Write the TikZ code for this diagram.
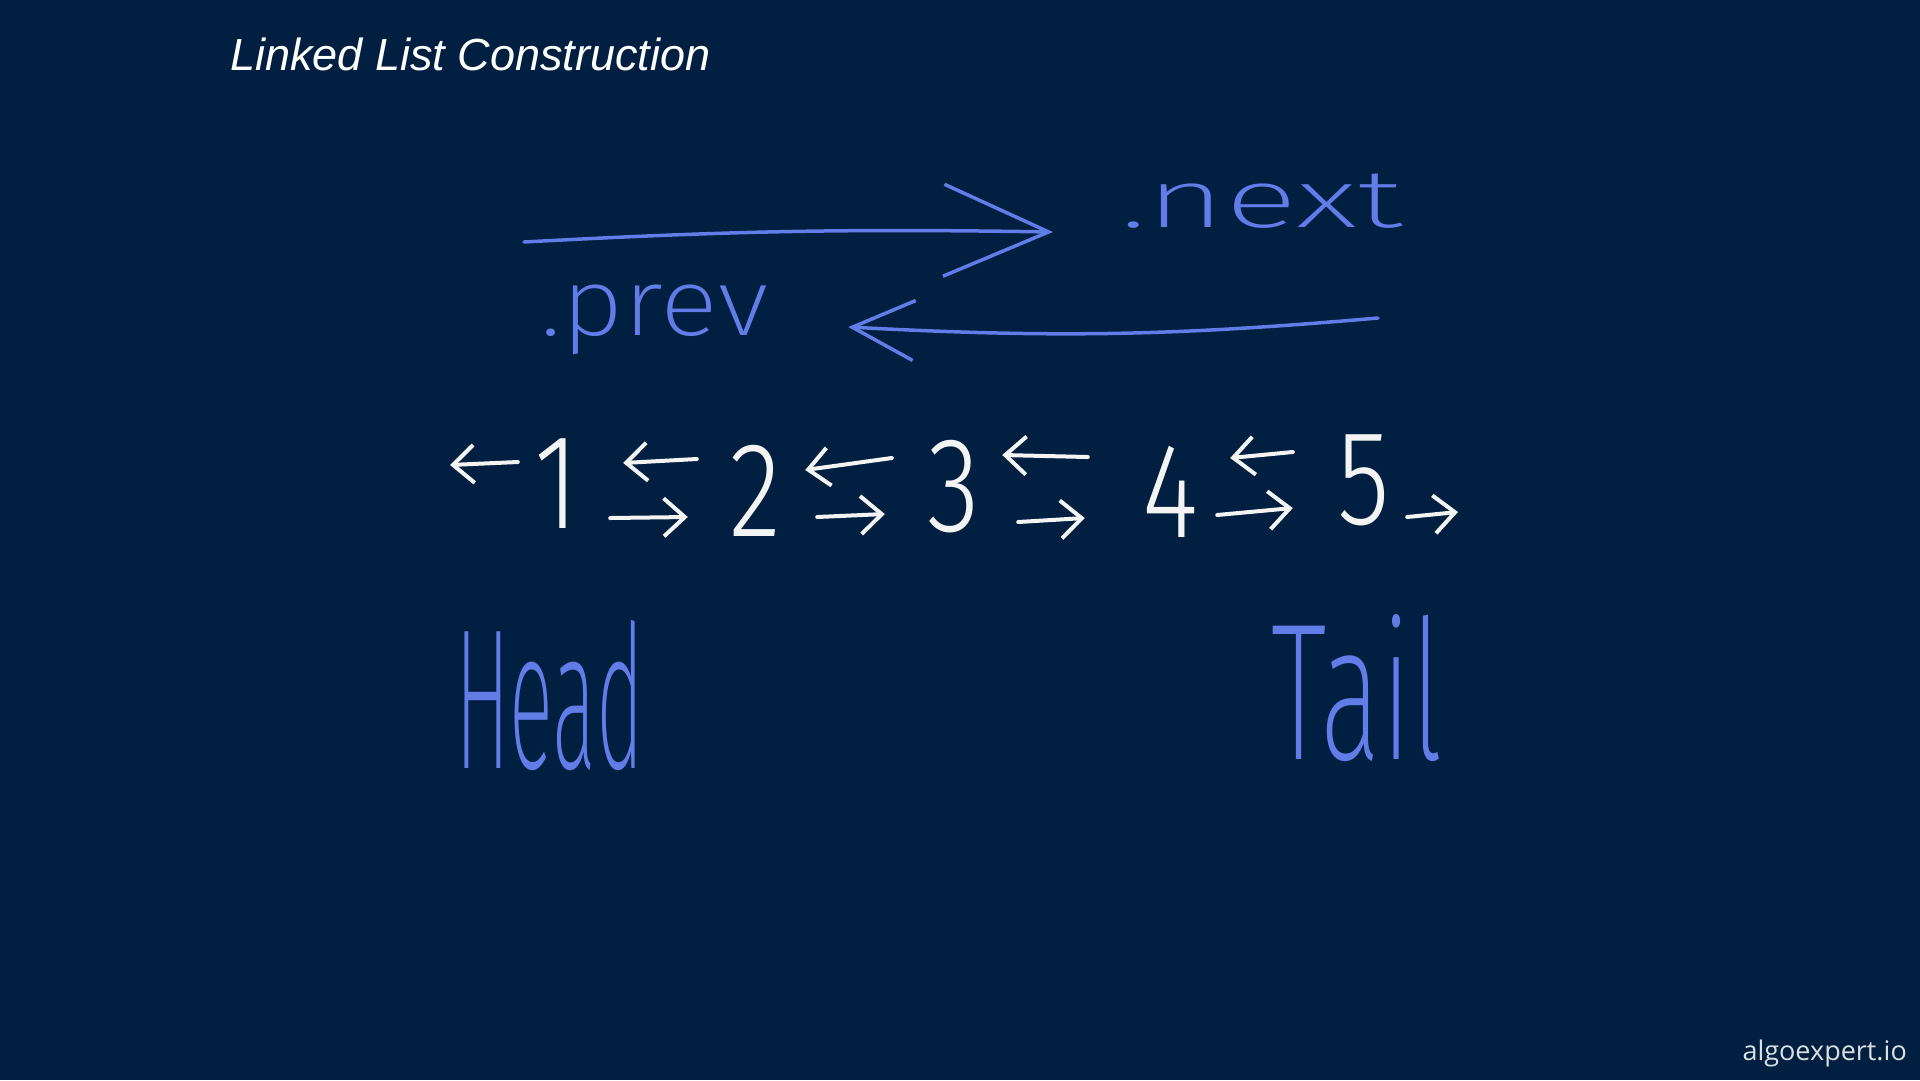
\documentclass[tikz,border=0pt]{standalone}
\usepackage{fontspec}
\usepackage{graphicx}
\usepackage{tikz}
\usetikzlibrary{arrows.meta,calc}
\definecolor{boardnavy}{RGB}{1,31,64}
\definecolor{inkblue}{RGB}{98,124,232}
\definecolor{chalkwhite}{RGB}{244,244,244}
\newfontfamily\titlefont{Liberation Sans}
\newfontfamily\markfont{Open Sans}
\IfFontExistsTF{Fira Sans Light}
  {\newfontfamily\handfont{Fira Sans Light}}
  {\newfontfamily\handfont{Open Sans}}
\IfFontExistsTF{Fira Sans ExtraLight}
  {\newfontfamily\penfont{Fira Sans ExtraLight}}
  {\newfontfamily\penfont{Open Sans}}
\newcommand{\squeeze}[2]{\scalebox{#1}[1]{#2}}

\begin{document}
\begin{tikzpicture}[x=1pt,y=-1pt,
  digit/.style={text=chalkwhite,inner sep=0pt,minimum width=60pt,
                font=\handfont\fontsize{135}{140}\selectfont},
  word/.style={text=inkblue,inner sep=0pt,anchor=base west},
  link/.style={-{Straight Barb[length=21pt,width=38pt]},line width=4pt,
               line cap=round,line join=round,chalkwhite},
  pointer/.style={line width=3.5pt,line cap=round,line join=round,inkblue}]

  % Board
  \fill[boardnavy] (0,0) rectangle (1920,1080);
  \useasboundingbox (0,0) rectangle (1920,1080);

  \node[anchor=base west,inner sep=0pt,text=white,
        font=\titlefont\itshape\fontsize{45}{54}\selectfont]
    (title) at (230,70) {Linked List Construction};
  \node[anchor=base east,inner sep=0pt,text=chalkwhite!90!boardnavy,
        font=\markfont\fontsize{27}{32}\selectfont]
    (brand) at (1907,1060) {algoexpert.io};

  % Pointer names
  \node[word,font=\penfont\fontsize{82}{96}\selectfont]
    (nextlbl) at (1120,227) {\squeeze{1.65}{.next}};
  \node[word,font=\penfont\fontsize{95}{110}\selectfont]
    (prevlbl) at (540,335) {\squeeze{1.14}{.prev}};

  \coordinate (nextstart) at (524,242);
  \coordinate (prevstart) at (1378,318);
  \draw[pointer,-{Straight Barb[length=105pt,width=92pt]}]
    (nextstart) to[bend left=2] ([xshift=-67pt,yshift=-5pt]nextlbl.base west);
  \draw[pointer,-{Straight Barb[length=62pt,width=60pt]}]
    (prevstart) to[bend left=4] ([xshift=80pt,yshift=8pt]prevlbl.base east);

  % The list
  \node[digit] (n1) at (557,484) {\squeeze{0.8}{1}};
  \node[digit] (n2) at (755,491) {\squeeze{0.8}{2}};
  \node[digit] (n3) at (954,487) {\squeeze{0.8}{3}};
  \node[digit] (n4) at (1170,492) {\squeeze{0.8}{4}};
  \node[digit] (n5) at (1364,480) {\squeeze{0.8}{5}};

  \coordinate (leftend) at (450,465);
  \coordinate (rightend) at (1458,512);

  % prev links (top) and next links (bottom)
  \draw[link] ([xshift=-9pt,yshift=22pt]n1.west) -- (leftend);
  \draw[link] ([xshift=-28pt,yshift=32pt]n2.west) -- ([xshift=36pt,yshift=21pt]n1.east);
  \draw[link] ([xshift=23pt,yshift=-34pt]n1.east) -- ([xshift=-37pt,yshift=-26pt]n2.west);
  \draw[link] ([xshift=-32pt,yshift=29pt]n3.west) -- ([xshift=20pt,yshift=21pt]n2.east);
  \draw[link] ([xshift=32pt,yshift=-26pt]n2.east) -- ([xshift=-39pt,yshift=-27pt]n3.west);
  \draw[link] ([xshift=-52pt,yshift=35pt]n4.west) -- ([xshift=18pt,yshift=32pt]n3.east);
  \draw[link] ([xshift=34pt,yshift=-35pt]n3.east) -- ([xshift=-55pt,yshift=-26pt]n4.west);
  \draw[link] ([xshift=-41pt,yshift=28pt]n5.west) -- ([xshift=30pt,yshift=34pt]n4.east);
  \draw[link] ([xshift=17pt,yshift=-23pt]n4.east) -- ([xshift=-41pt,yshift=-28pt]n5.west);
  \draw[link] ([xshift=13pt,yshift=-37pt]n5.east) -- (rightend);

  % Ends
  \node[word,font=\penfont\fontsize{200}{210}\selectfont]
    (headlbl) at (455,768) {\squeeze{0.41}{Head}};
  \node[word,font=\penfont\fontsize{195}{205}\selectfont]
    (taillbl) at (1271,759) {\squeeze{0.58}{Tail}};

\end{tikzpicture}
\end{document}
